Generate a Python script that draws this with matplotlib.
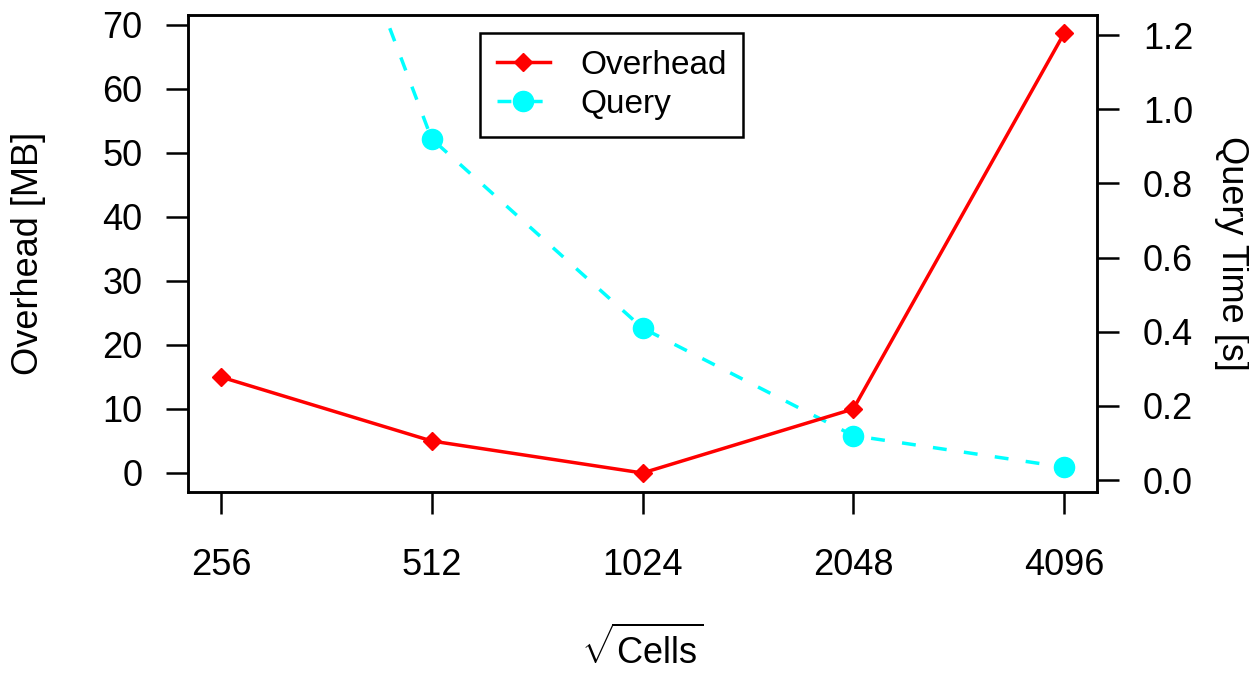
import numpy as np
import matplotlib.pyplot as plt

plt.rcParams['font.family'] = ['Liberation Sans', 'DejaVu Sans']
plt.rcParams['mathtext.fontset'] = 'custom'
plt.rcParams['mathtext.rm'] = 'Liberation Sans'

# data
cells = ['256', '512', '1024', '2048', '4096']
overhead = [15, 5, 0, 10, 68.7]          # MB
query = [2.42, 0.92, 0.41, 0.12, 0.035]  # s

x = np.arange(1, len(cells) + 1)

fig = plt.figure(figsize=(12.49, 6.75), dpi=100)
ax = fig.add_axes([188/1249, 1 - 492/675, (1097-188)/1249, (492-15)/675])
ax2 = ax.twinx()

fs = 26
red = '#ff0000'
cyan = '#00ffff'

l1, = ax.plot(x, overhead, color=red, lw=2.5, marker='D', ms=9.5, zorder=3)
l2, = ax2.plot(x, query, color=cyan, lw=2.5, ls=(0, (4, 5)),
               marker='o', ms=14.5, zorder=3)

ax.set_xlim(0.844, 5.156)
ax.set_ylim(-2.97, 71.56)
ax2.set_ylim(-0.032, 1.254)

ax.set_xticks(x)
ax.set_xticklabels(cells)
ax.set_yticks(np.arange(0, 71, 10))
ax2.set_yticks(np.arange(0, 1.21, 0.2))
ax2.set_yticklabels(['%.1f' % v for v in np.arange(0, 1.21, 0.2)])

for a in (ax, ax2):
    for s in a.spines.values():
        s.set_linewidth(1.8)
    a.tick_params(direction='out', length=16, width=1.8, labelsize=fs, pad=17)
ax.tick_params(axis='x', length=16, pad=24)

ax.set_ylabel('Overhead [MB]', fontsize=fs, labelpad=40)
ax2.set_ylabel('Query Time [s]', fontsize=fs, rotation=-90, labelpad=40)
ax.set_xlabel(r'$\sqrt{\mathrm{Cells}}$', fontsize=fs, labelpad=32)

leg = ax.legend([l1, l2], ['Overhead', 'Query'], loc='upper left',
                bbox_to_anchor=((480-188)/909, (492-33)/477), borderaxespad=0,
                fontsize=fs-2, fancybox=False, framealpha=1, edgecolor='black',
                handlelength=1.6, borderpad=0.5, labelspacing=0.25, handletextpad=0.9)
leg.get_frame().set_linewidth(1.8)
leg.set_zorder(5)
ax.set_zorder(ax2.get_zorder() + 1)
ax.patch.set_visible(False)

fig.savefig('out.png', dpi=100)
